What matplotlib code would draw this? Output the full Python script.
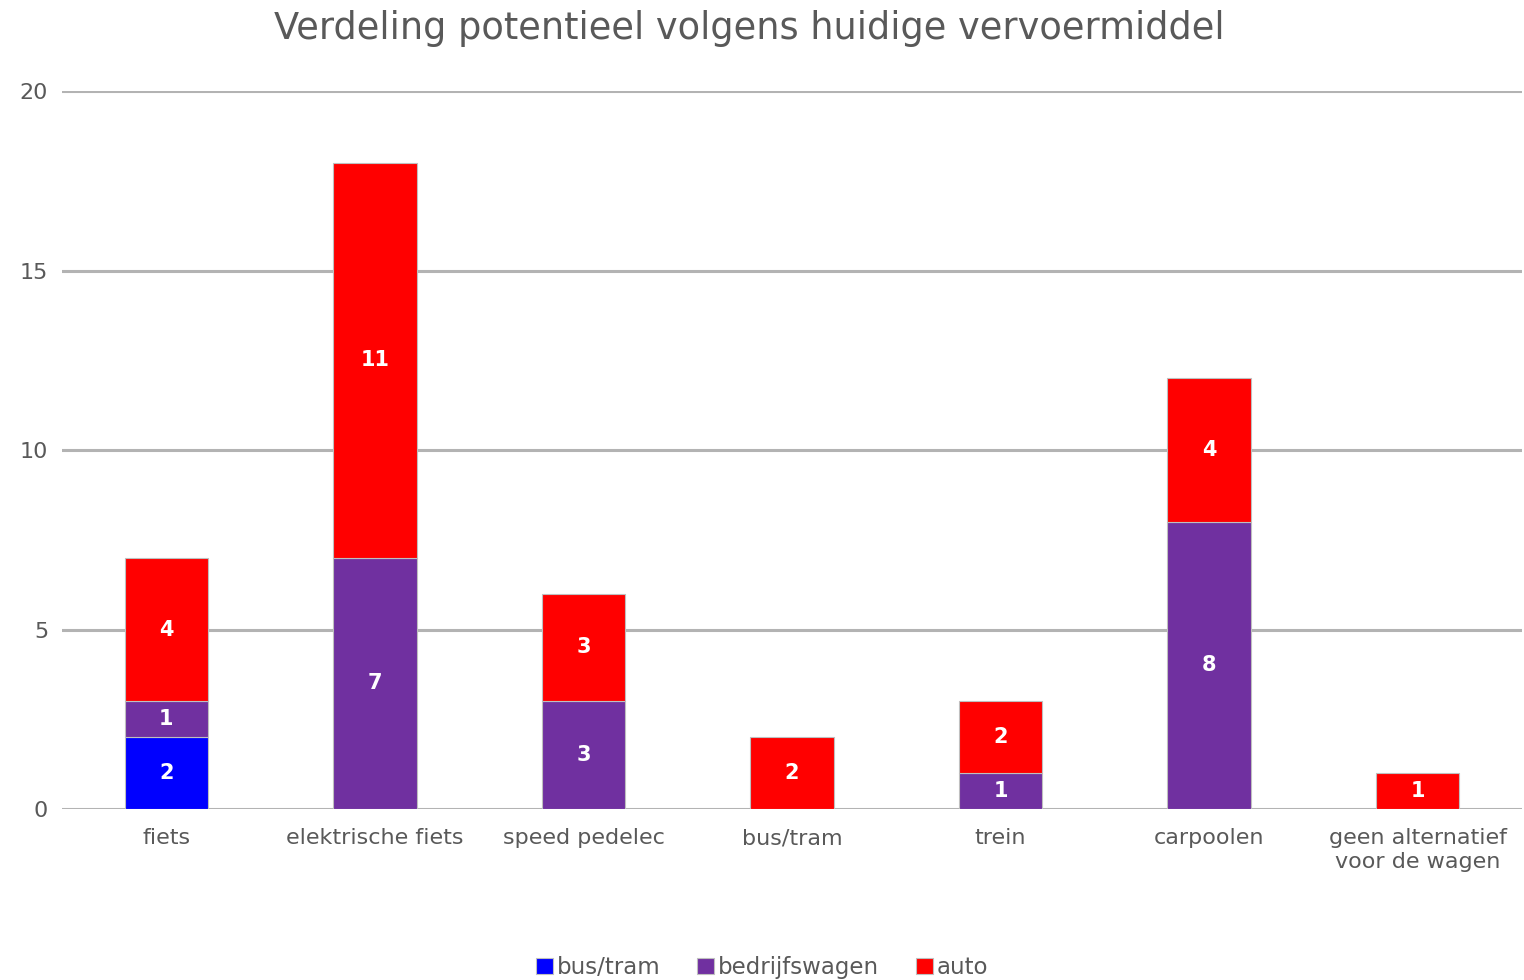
import matplotlib.pyplot as plt
import numpy as np

categories = ['fiets', 'elektrische fiets', 'speed pedelec', 'bus/tram',
              'trein', 'carpoolen', 'geen alternatief\nvoor de wagen']
bus_tram = [2, 0, 0, 0, 0, 0, 0]
bedrijfswagen = [1, 7, 3, 0, 1, 8, 0]
auto = [4, 11, 3, 2, 2, 4, 1]

series = [('bus/tram', bus_tram, '#0000FF'),
          ('bedrijfswagen', bedrijfswagen, '#7030A0'),
          ('auto', auto, '#FF0000')]

f = plt.figure(figsize=(15.24, 9.8), dpi=100)
ax = f.add_axes([0.0407, 0.1745, 0.958, 0.7325])

x = np.arange(len(categories))
bottom = np.zeros(len(categories))
for name, vals, col in series:
    vals = np.array(vals, dtype=float)
    ax.bar(x, vals, width=0.4, bottom=bottom, color=col, label=name,
           edgecolor='#BFBFBF', linewidth=0.8, zorder=3)
    for xi, v, b in zip(x, vals, bottom):
        if v > 0:
            ax.text(xi, b + v / 2, f"{int(v)}", ha='center', va='center',
                    color='white', fontsize=15, fontweight='bold', zorder=4)
    bottom += vals

ax.set_xlim(-0.5, len(categories) - 0.5)
ax.set_ylim(0, 20)
ax.set_yticks([0, 5, 10, 15, 20])
ax.yaxis.grid(True, color='#B3B3B3', linewidth=2.2, zorder=0)
for s in ['top', 'right', 'left', 'bottom']:
    ax.spines[s].set_visible(False)
ax.tick_params(axis='both', length=0, colors='#595959', labelsize=16)
ax.tick_params(axis='y', pad=10)
ax.tick_params(axis='x', pad=14)
ax.set_xticks(x)
ax.set_xticklabels(categories, linespacing=1.2)

f.suptitle('Verdeling potentieel volgens huidige vervoermiddel',
           x=0.4915, y=0.99, fontsize=26.5, color='#595959')

f.legend(loc='lower center', bbox_to_anchor=(0.5, -0.02), ncol=3,
         frameon=False, fontsize=16.5, handlelength=0.75, handleheight=0.75,
         handletextpad=0.15, columnspacing=1.6, labelcolor='#595959')

f.savefig('out.png', dpi=100)
plt.close(f)
